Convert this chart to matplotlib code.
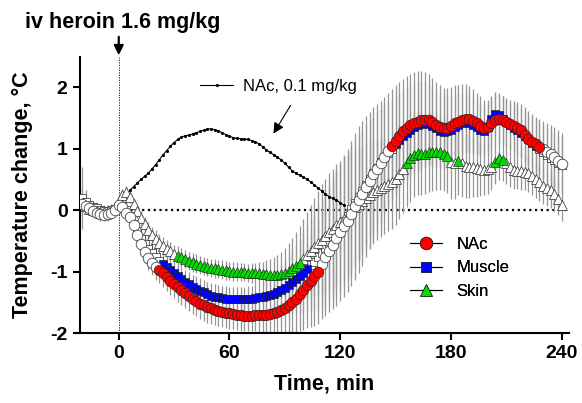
import numpy as np
import matplotlib
matplotlib.use("Agg")
import matplotlib.pyplot as plt
from matplotlib.lines import Line2D

plt.rcParams['font.family'] = ['Liberation Sans', 'DejaVu Sans']
plt.rcParams['axes.unicode_minus'] = False

# sampling times, min (2-min bins)
t = np.arange(-20, 241, 2)

nac = [0.1, 0.07, 0.03, -0.02, -0.05, -0.07, -0.08, -0.07, -0.05, 0.0,
       0.08, 0.05, -0.05, -0.12, -0.25, -0.4, -0.55, -0.68, -0.78, -0.86, -0.93, -0.98, -1.03, -1.09, -1.15,
       -1.2, -1.25, -1.3, -1.35, -1.4, -1.44, -1.48, -1.52, -1.55, -1.58, -1.6, -1.62, -1.64, -1.66, -1.67,
       -1.68, -1.69, -1.7, -1.71, -1.72, -1.72, -1.72, -1.71, -1.71, -1.71, -1.7, -1.69, -1.68, -1.66, -1.63,
       -1.6, -1.55, -1.5, -1.44, -1.37, -1.3, -1.22, -1.15, -1.08, -1.0, -0.88, -0.77, -0.66, -0.56, -0.46,
       -0.36, -0.26, -0.17, -0.06, 0.06, 0.17, 0.27, 0.38, 0.48, 0.58, 0.67, 0.77, 0.87, 0.96, 1.05,
       1.13, 1.21, 1.28, 1.34, 1.38, 1.41, 1.44, 1.46, 1.47, 1.46, 1.43, 1.39, 1.35, 1.33, 1.34,
       1.37, 1.41, 1.44, 1.47, 1.49, 1.48, 1.45, 1.41, 1.37, 1.34, 1.36, 1.42, 1.47, 1.48, 1.46,
       1.43, 1.4, 1.37, 1.34, 1.3, 1.23, 1.16, 1.11, 1.07, 1.03, 0.99, 0.95, 0.91, 0.86, 0.8, 0.75]
nac_err = [0.15, 0.12, 0.1, 0.1, 0.1, 0.1, 0.1, 0.1, 0.1, 0.1,
           0.1, 0.1, 0.12, 0.14, 0.15, 0.16, 0.17, 0.18, 0.19, 0.2, 0.2, 0.21, 0.22, 0.22, 0.23,
           0.23, 0.24, 0.24, 0.24, 0.25, 0.25, 0.25, 0.25, 0.25, 0.25, 0.25, 0.25, 0.25, 0.25, 0.25,
           0.25, 0.25, 0.25, 0.25, 0.25, 0.25, 0.25, 0.26, 0.27, 0.28, 0.3, 0.32, 0.34, 0.37, 0.4,
           0.43, 0.46, 0.5, 0.55, 0.6, 0.65, 0.7, 0.75, 0.8, 0.85, 0.9, 0.95, 1.0, 1.05, 1.1,
           1.12, 1.15, 1.17, 1.18, 1.2, 1.2, 1.18, 1.15, 1.12, 1.1, 1.05, 1.0, 0.97, 0.94, 0.92,
           0.9, 0.88, 0.86, 0.85, 0.84, 0.83, 0.82, 0.8, 0.78, 0.75, 0.72, 0.7, 0.68, 0.66, 0.65,
           0.64, 0.62, 0.6, 0.58, 0.56, 0.54, 0.52, 0.5, 0.48, 0.46, 0.44, 0.42, 0.41, 0.4, 0.4,
           0.4, 0.4, 0.41, 0.42, 0.43, 0.44, 0.45, 0.45, 0.45, 0.45, 0.46, 0.47, 0.48, 0.49, 0.5, 0.5]

muscle = [0.2, 0.13, 0.08, 0.05, 0.03, 0.0, -0.02, -0.02, 0.0, 0.02,
          0.05, 0.06, 0.0, -0.1, -0.22, -0.34, -0.45, -0.55, -0.63, -0.7, -0.77, -0.83, -0.88, -0.93, -0.98,
          -1.03, -1.08, -1.12, -1.17, -1.21, -1.25, -1.28, -1.31, -1.34, -1.37, -1.39, -1.41, -1.42, -1.43, -1.44,
          -1.45, -1.45, -1.45, -1.45, -1.45, -1.44, -1.44, -1.43, -1.42, -1.41, -1.4, -1.38, -1.36, -1.33, -1.3,
          -1.26, -1.22, -1.17, -1.12, -1.07, -1.02, -0.96, -0.9, -0.84, -0.77, -0.7, -0.62, -0.53, -0.45, -0.36,
          -0.27, -0.18, -0.09, 0.01, 0.11, 0.21, 0.31, 0.41, 0.51, 0.6, 0.69, 0.78, 0.86, 0.93, 1.0,
          1.07, 1.14, 1.2, 1.26, 1.31, 1.35, 1.38, 1.4, 1.41, 1.4, 1.37, 1.33, 1.29, 1.27, 1.28,
          1.31, 1.35, 1.38, 1.41, 1.43, 1.42, 1.39, 1.35, 1.31, 1.29, 1.35, 1.48, 1.56, 1.55, 1.49,
          1.43, 1.38, 1.34, 1.3, 1.26, 1.21, 1.15, 1.09, 1.04, 0.99, 0.94, 0.89, 0.85, 0.81, 0.77, 0.74]
muscle_err = [0.5, 0.2, 0.12, 0.1, 0.1, 0.1, 0.1, 0.1, 0.1, 0.1,
              0.1, 0.1, 0.12, 0.13, 0.14, 0.15, 0.16, 0.17, 0.18, 0.18, 0.19, 0.2, 0.2, 0.2, 0.2,
              0.2, 0.2, 0.2, 0.2, 0.2, 0.2, 0.2, 0.2, 0.2, 0.2, 0.2, 0.2, 0.2, 0.2, 0.2,
              0.2, 0.2, 0.2, 0.2, 0.2, 0.2, 0.21, 0.22, 0.23, 0.25, 0.27, 0.3, 0.33, 0.36, 0.4,
              0.44, 0.48, 0.52, 0.56, 0.6, 0.65, 0.7, 0.75, 0.8, 0.85, 0.9, 0.94, 0.98, 1.0, 1.02,
              1.04, 1.05, 1.05, 1.05, 1.04, 1.02, 1.0, 0.98, 0.95, 0.92, 0.9, 0.87, 0.85, 0.83, 0.8,
              0.78, 0.76, 0.75, 0.74, 0.73, 0.72, 0.71, 0.7, 0.68, 0.66, 0.64, 0.62, 0.6, 0.58, 0.56,
              0.55, 0.54, 0.53, 0.52, 0.5, 0.48, 0.46, 0.44, 0.42, 0.4, 0.38, 0.37, 0.36, 0.36, 0.36,
              0.36, 0.37, 0.38, 0.39, 0.4, 0.41, 0.42, 0.42, 0.43, 0.43, 0.44, 0.44, 0.45, 0.45, 0.45, 0.45]

skin = [0.12, 0.06, 0.02, 0.0, -0.02, -0.03, -0.03, -0.02, 0.0, 0.05,
        0.15, 0.25, 0.3, 0.22, 0.1, -0.02, -0.13, -0.23, -0.32, -0.4, -0.47, -0.53, -0.58, -0.63, -0.67,
        -0.71, -0.74, -0.77, -0.8, -0.83, -0.85, -0.87, -0.89, -0.91, -0.93, -0.94, -0.95, -0.96, -0.97, -0.98,
        -0.99, -1.0, -1.0, -1.01, -1.01, -1.02, -1.02, -1.03, -1.03, -1.04, -1.04, -1.05, -1.05, -1.05, -1.04,
        -1.02, -0.99, -0.95, -0.91, -0.86, -0.8, -0.73, -0.66, -0.6, -0.54, -0.48, -0.42, -0.36, -0.31, -0.25,
        -0.2, -0.14, -0.08, -0.02, 0.05, 0.1, 0.15, 0.2, 0.25, 0.29, 0.33, 0.36, 0.39, 0.42, 0.45,
        0.5, 0.58, 0.67, 0.76, 0.84, 0.9, 0.93, 0.92, 0.92, 0.94, 0.95, 0.95, 0.94, 0.92, 0.88,
        0.78, 0.76, 0.8, 0.76, 0.72, 0.7, 0.7, 0.68, 0.67, 0.66, 0.67, 0.7, 0.78, 0.84, 0.82,
        0.76, 0.7, 0.66, 0.64, 0.63, 0.62, 0.6, 0.55, 0.5, 0.45, 0.4, 0.36, 0.32, 0.26, 0.18, 0.08]
skin_err = [0.2, 0.12, 0.1, 0.08, 0.08, 0.08, 0.08, 0.08, 0.08, 0.08,
            0.08, 0.1, 0.1, 0.1, 0.1, 0.11, 0.12, 0.12, 0.13, 0.13, 0.14, 0.14, 0.14, 0.15, 0.15,
            0.15, 0.15, 0.15, 0.15, 0.15, 0.15, 0.15, 0.15, 0.15, 0.15, 0.15, 0.15, 0.15, 0.15, 0.15,
            0.15, 0.15, 0.15, 0.15, 0.15, 0.15, 0.16, 0.17, 0.18, 0.2, 0.22, 0.25, 0.28, 0.32, 0.36,
            0.4, 0.45, 0.5, 0.55, 0.6, 0.65, 0.7, 0.75, 0.8, 0.85, 0.9, 0.93, 0.96, 0.98, 1.0,
            1.0, 1.0, 0.98, 0.96, 0.94, 0.92, 0.9, 0.88, 0.86, 0.84, 0.82, 0.8, 0.78, 0.76, 0.75,
            0.74, 0.73, 0.72, 0.71, 0.7, 0.69, 0.68, 0.67, 0.66, 0.65, 0.64, 0.63, 0.62, 0.61, 0.6,
            0.6, 0.58, 0.56, 0.54, 0.52, 0.5, 0.48, 0.46, 0.44, 0.42, 0.4, 0.38, 0.36, 0.35, 0.34,
            0.33, 0.32, 0.31, 0.3, 0.3, 0.3, 0.3, 0.3, 0.3, 0.3, 0.3, 0.29, 0.28, 0.27, 0.26, 0.25]

# time windows (min) where the change was significant -> filled symbols
nac_sig = [(22, 108), (148, 228)]
muscle_sig = [(24, 102), (150, 226)]
skin_sig = [(32, 98), (156, 178), (184, 184), (204, 208)]

# low dose NAc curve (0.1 mg/kg)
t_low = np.arange(0, 123, 2)
nac_low = [0.12, 0.18, 0.25, 0.32, 0.38, 0.44, 0.5, 0.55, 0.6, 0.67, 0.74, 0.82, 0.9, 0.97, 1.04,
           1.1, 1.15, 1.19, 1.21, 1.22, 1.24, 1.26, 1.28, 1.3, 1.32, 1.32, 1.31, 1.29, 1.26, 1.23,
           1.2, 1.18, 1.17, 1.16, 1.16, 1.15, 1.13, 1.11, 1.08, 1.03, 0.98, 0.94, 0.9, 0.86, 0.82,
           0.76, 0.7, 0.64, 0.6, 0.57, 0.54, 0.5, 0.46, 0.41, 0.36, 0.31, 0.26, 0.22, 0.19, 0.16,
           0.12, 0.08]


def sig_mask(windows):
    m = np.zeros(len(t), dtype=bool)
    for a, b in windows:
        m |= (t >= a) & (t <= b)
    return m


fig = plt.figure(figsize=(5.82, 4.03), dpi=100)
ax = fig.add_axes([80 / 582, 70 / 403, 489 / 582, 276.5 / 403])

series = [
    (muscle, muscle_err, muscle_sig, 's', 'blue', 6.0, 'Muscle'),
    (skin, skin_err, skin_sig, '^', '#00dd00', 7.0, 'Skin'),
    (nac, nac_err, nac_sig, 'o', 'red', 7.6, 'NAc'),
]

for y, e, sig, mk, col, ms, name in series:
    ax.errorbar(t, y, yerr=e, fmt='none', ecolor='#959595', elinewidth=0.9,
                capsize=0, zorder=1)

z = 3
for y, e, sig, mk, col, ms, name in series:
    y = np.array(y)
    m = sig_mask(sig)
    ax.plot(t[~m], y[~m], ls='none', marker=mk, ms=ms, mfc='white',
            mec='#444444', mew=0.6, zorder=z)
    ax.plot(t[m], y[m], ls='none', marker=mk, ms=ms, mfc=col,
            mec='#222222', mew=0.45, zorder=z + 1)
    z += 2

ax.plot(t_low, nac_low, color='black', lw=0.8, marker='.', ms=2.5, zorder=2)

ax.axhline(0, xmin=21 / 265, color='black', lw=1.6, ls=(0, (1, 1.6)), zorder=0)
ax.axvline(0, color='black', lw=0.6, ls=(0, (1.5, 1.5)), zorder=0)

ax.set_xlim(-21, 244)
ax.set_ylim(-2, 2.5)
ax.set_xticks([0, 60, 120, 180, 240])
ax.set_yticks([-2, -1, 0, 1, 2])
for s in ['top', 'right']:
    ax.spines[s].set_visible(False)
for s in ['left', 'bottom']:
    ax.spines[s].set_linewidth(1.5)
ax.tick_params(width=1.5, length=5, direction='out', labelsize=14, pad=4)
for lab in ax.get_xticklabels() + ax.get_yticklabels():
    lab.set_fontweight('bold')

ax.set_xlabel('Time, min', fontsize=15.5, fontweight='bold', labelpad=8)
ax.set_ylabel('Temperature change, °C', fontsize=15.5, fontweight='bold', labelpad=12)

# legends
handles = [Line2D([], [], color='black', lw=0.8, marker='o', ms=9, mfc='red', mec='#222222', mew=0.5),
           Line2D([], [], color='black', lw=0.8, marker='s', ms=7.5, mfc='blue', mec='#222222', mew=0.5),
           Line2D([], [], color='black', lw=0.8, marker='^', ms=8, mfc='#00dd00', mec='#222222', mew=0.5)]
leg = fig.legend(handles, ['NAc', 'Muscle', 'Skin'], loc='center left',
                 bbox_to_anchor=(410 / 582, 1 - 268 / 403), frameon=False,
                 fontsize=12, handlelength=1.9, handletextpad=0.9,
                 labelspacing=0.5, borderpad=0, borderaxespad=0)
fig.add_artist(leg)

h_low = [Line2D([], [], color='black', lw=0.8, marker='.', ms=2.5, markevery=[1])]
fig.legend(h_low, ['NAc, 0.1 mg/kg'], loc='center left',
           bbox_to_anchor=(200 / 582, 1 - 86 / 403), frameon=False, fontsize=12,
           handlelength=2.0, handletextpad=0.6, borderpad=0, borderaxespad=0)

ax.annotate('', xy=(272 / 582, 1 - 136 / 403), xytext=(292 / 582, 1 - 103 / 403),
            xycoords='figure fraction', textcoords='figure fraction',
            arrowprops=dict(arrowstyle='-|>', color='black', lw=0.8, mutation_scale=16))

fig.text(25 / 582, 1 - 28 / 403, 'iv heroin 1.6 mg/kg', fontsize=15.5,
         fontweight='bold', va='baseline')
ax.annotate('', xy=(0, 1 - 58 / 403), xytext=(0, 1 - 34 / 403),
            xycoords=('data', 'figure fraction'), textcoords=('data', 'figure fraction'),
            arrowprops=dict(arrowstyle='-|>', color='black', lw=1.6, mutation_scale=14))

fig.savefig('out.png', dpi=100)
